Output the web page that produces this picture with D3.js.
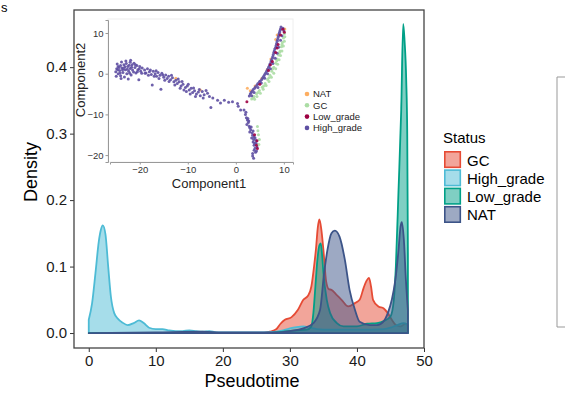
<!DOCTYPE html>
<html>
<head>
<meta charset="utf-8">
<script src="https://cdn.jsdelivr.net/npm/d3@7"></script>
<style>
  body { margin: 0; background: #fff; }
  svg { display: block; font-family: "Liberation Sans", Arial, sans-serif; }
</style>
</head>
<body>
<svg id="chart" width="565" height="397"></svg>
<script>
// density curves, [pseudotime, density]
const gcDensity = [[0,0],[26,0],[27,0.002],[28,0.006],[28.6,0.014],[29.25,0.02],[30.25,0.024],[31.2,0.035],[32,0.05],[32.7,0.056],[33.2,0.07],[33.6,0.1],[33.9,0.128],[34.15,0.158],[34.4,0.171],[34.7,0.155],[35,0.125],[35.4,0.078],[35.8,0.066],[36.2,0.065],[37,0.057],[37.7,0.05],[38.7,0.04],[39.7,0.045],[40.4,0.05],[41,0.068],[41.4,0.078],[41.8,0.083],[42.1,0.07],[42.4,0.05],[43.2,0.04],[44,0.037],[44.6,0.03],[45.2,0.02],[45.8,0.012],[46.5,0.01],[47.2,0.014],[47.6,0.012]];
const hgDensity = [[0,0.02],[0.5,0.045],[1,0.09],[1.5,0.138],[1.8,0.155],[2.1,0.162],[2.5,0.148],[2.9,0.1],[3.3,0.055],[3.8,0.03],[4.4,0.021],[5,0.016],[5.8,0.012],[6.7,0.015],[7.5,0.019],[8.2,0.015],[9,0.008],[10,0.006],[11,0.006],[12,0.004],[13,0.003],[14,0.003],[15,0.004],[16,0.003],[17,0.002],[18,0.003],[19,0.001],[22,0.001],[26,0.001],[28,0.002],[29,0.004],[30,0.007],[31,0.009],[32,0.01],[33,0.008],[34,0.006],[36,0.005],[40,0.005],[44,0.006],[45,0.008],[46,0.012],[47,0.015],[47.6,0.012]];
const lgDensity = [[0,0],[27,0],[29,0.002],[31,0.004],[32.5,0.005],[33.2,0.01],[33.5,0.03],[33.8,0.07],[34.1,0.11],[34.4,0.132],[34.6,0.135],[34.8,0.118],[35,0.09],[35.5,0.05],[36,0.03],[37,0.015],[38,0.01],[40,0.01],[41.5,0.014],[43,0.015],[44,0.018],[45,0.025],[45.5,0.05],[45.8,0.1],[46.2,0.215],[46.6,0.335],[46.9,0.465],[47.1,0.44],[47.35,0.38],[47.5,0.3],[47.6,0.12]];
const natDensity = [[0,0],[10,0.001],[17,0.002],[20,0.001],[28,0.001],[30,0.003],[32,0.007],[33.5,0.015],[34.5,0.035],[35.1,0.09],[35.6,0.125],[36.2,0.15],[36.7,0.154],[37.4,0.145],[38.2,0.11],[38.9,0.065],[39.7,0.035],[40.4,0.017],[41.9,0.012],[43,0.012],[44,0.018],[44.6,0.03],[45.2,0.05],[45.7,0.078],[46.2,0.125],[46.5,0.16],[46.7,0.167],[47,0.14],[47.3,0.08],[47.6,0.035]];

const statusNames = ["GC", "High_grade", "Low_grade", "NAT"];
const statusColors = ["#E64B35", "#4DBBD5", "#00A087", "#3C5488"];
const xTicks = [0, 10, 20, 30, 40, 50];
const yTicks = [0, 0.1, 0.2, 0.3, 0.4];

// inset trajectory, [Component1, Component2]
const hgCells = [[-25,0.5],[-24.8,1.2],[-24.5,1.8],[-24.5,0],[-24.2,0.8],[-24,2],[-24,-0.5],[-23.7,1.4],[-23.5,0.3],[-23.3,2.2],[-23.2,-0.8],[-23,1],[-22.8,2.5],[-22.7,0],[-22.5,1.8],[-22.3,0.6],[-22,2.8],[-22,1.3],[-21.8,-0.3],[-21.6,2.2],[-21.5,0.9],[-21.2,2.6],[-21,1.5],[-20.8,0.2],[-20.6,2],[-20.4,1],[-20.2,-1.5],[-20,1.8],[-19.8,0.6],[-19.5,1.4],[-24.7,2.4],[-23.8,2.9],[-22.9,3.1],[-21.9,3.3],[-24.9,-0.6],[-23.9,-1.2],[-22.4,-1.3],
  [-24.6,1],[-24.1,0.2],[-23.6,0.9],[-23.1,1.7],[-22.6,1.1],[-22.1,0.1],[-21.7,1.6],[-21.3,0.4],[-20.9,2.2],[-20.5,0.5],[-20.1,1.2],[-19.6,0.1],[-24.3,1.5],[-23.4,1.3],[-22.2,2.1],
  [-19,0.9],[-18.7,0.2],[-18.4,1.2],[-18,0.5],[-17.6,-0.2],[-17.4,-2.8],[-17.2,0.6],[-16.8,0],[-16.5,-0.6],[-16.2,0.3],[-15.8,-0.4],[-15.6,-3.8],[-15.4,0.1],[-15,-0.9],[-14.6,-0.3],[-14.3,-1.2],[-14,-0.6],[-13.6,-1.5],[-13.2,-1],[-12.9,-2],[-12.5,-1.6],[-12.2,-2.4],[-11.8,-2],[-11.4,-3],[-11,-2.6],[-10.8,-4],[-10.5,-3.4],[-10.1,-3],[-9.7,-4],[-9.3,-3.6],[-9,-4.6],[-8.6,-4.2],[-8.2,-5],[-7.8,-4.5],[-7.4,-5.4],[-7,-4.4],[-6.6,-5.2],[-5.9,-4.8],[-5.2,-8.3],[-4.8,-6],[-3.8,-6.5],[-3.2,-7.2],[-2.4,-6.5],[-1.5,-7],[-0.7,-6.9],[0.35,-7.3],[1,-8.9],[1.7,-8.9],[0.5,-8],
  [-18.9,0.1],[-18.2,-0.4],[-17.8,0.9],[-17,-0.6],[-16.6,0.7],[-16,-1.2],[-15.2,-0.3],[-14.8,-1.6],[-13.9,-1.9],[-13.4,-0.4],[-12.7,-2.8],[-12,-1.3],[-11.6,-3.6],[-11.2,-1.9],[-10.3,-4.4],[-9.9,-2.6],[-9.5,-5],[-8.8,-3.5],[-8.4,-5.6],[-7.6,-3.9],[-6.8,-6],[-6.2,-4.1],[-5.5,-5.6],
  [2,-10],[2.2,-10.8],[2.4,-11.4],[2.6,-12],[2.3,-12.5],[2.8,-12.9],[3.1,-13.8],[2.9,-14.3],[3.4,-14.6],[3.8,-15.5],[3.3,-15.8],[4.2,-16.4],[3.6,-16.8],[4.2,-17.1],[3.8,-17.6],[4.4,-18],[3.8,-18.8],[4.1,-19.3],[3.5,-19.6],[3.5,-20.2],[2.5,-11],[2.9,-13.3],[3.5,-15.1],[3.7,-16.2],[4,-18.3],
  [2.1,-9.5],[2.7,-11.6],[3.2,-13.1],[3.6,-14.1],[4,-15.8],[3.9,-17.1],[4.3,-19],[3.7,-20.8],
  [2.8,-5.5],[3.2,-4.6],[3.6,-3.9],[4.1,-3.2],[4.6,-2.4],[5.1,-1.8],[5.6,-1],[6,-0.2],[6.4,0.6],[6.8,1.6],[7.1,2.4],[7.4,3.3],[7.7,4.2],[7.9,5.2],[8.1,6.1],[8.4,7],[8.6,8],[8.8,8.9],[9,9.8],[9.2,10.6],[9.4,11.5],[9.8,11.2],[10,10.5],[9.6,9.3],[9.3,8.2],[8.9,6.5],[8.6,5],[8.2,3.8],[7.7,2.5],[7.2,1.2],[6.6,0],[6,-1.1],[5.3,-2.3],[4.6,-3.4],[3.8,-4.6],[3.3,-5.4],
  [3,-5],[3.4,-4.3],[3.9,-3.6],[4.4,-2.8],[4.9,-2],[5.4,-1.4],[5.8,-0.6],[6.2,0.2],[6.6,1.1],[7,2],[7.3,2.9],[7.6,3.8],[7.8,4.7],[8,5.6],[8.3,6.5],[8.5,7.5],[8.7,8.4],[8.9,9.3],[9.1,10.2],[9.3,11]];
const gcCells = [[3.3,-6.2],[3.8,-5.6],[4.3,-4.9],[4.9,-4.1],[5.5,-3.3],[6.1,-2.4],[6.6,-1.4],[7.1,-0.4],[7.5,0.6],[7.9,1.6],[8.3,2.6],[8.6,3.6],[8.9,4.6],[9.2,5.6],[9.5,6.6],[9.7,7.7],[9.9,8.8],[10.1,9.8],[4.7,-15],[4.9,-16.2],[4.6,-14],[3.6,-6],[4.6,-4.6],[5.8,-3],[6.9,-1],[7.7,1.2],[8.5,3.2],[9.1,5.2],[9.6,7.2],
  [3.9,-6.3],[4.4,-5.6],[5.1,-4.8],[5.7,-3.8],[6.3,-2.9],[6.9,-1.9],[7.4,-0.9],[7.9,0.1],[8.3,1.2],[8.7,2.3],[9,3.4],[9.3,4.5],[9.6,5.6],[9.9,6.8],[10.1,8],[10.2,9.1],[4.8,-17.4],[4.5,-13]];
const lgCells = [[2.3,-6.9],[5,-2.6],[6.8,0.8],[7.6,3],[8.3,5.2],[8.8,7.2],[9.3,9.5],[9.8,10.9],[10.1,10.2],[4.4,-16.5],[4.3,-17.6],[4.5,-18.4],[3.9,-15],[7.2,2.2],[8.6,6.3]];
const natCells = [[-12.5,-1.1],[-7.4,-4],[3,-4.2],[4,-3],[5.4,-1.2],[6.5,1],[7.3,3.6],[8.3,8.4],[8.6,9.5],[10.2,11],[2.4,-3.6]];

const cellNames = ["NAT", "GC", "Low_grade", "High_grade"];
const cellColors = ["#FDAE61", "#ABDDA4", "#9E0142", "#5E4FA2"];
const compTicks = [-20, -10, 0, 10];

const svg = d3.select("#chart");

// main density panel
const x = d3.scaleLinear().domain([-2.2, 50]).range([74, 424]);
const y = d3.scaleLinear().domain([-0.0225, 0.486]).range([348, 10]);

const area = d3.area()
    .x(d => x(d[0]))
    .y0(y(0))
    .y1(d => y(d[1]))
    .curve(d3.curveMonotoneX);

const series = [gcDensity, hgDensity, lgDensity, natDensity];
svg.append("g")
    .selectAll("path")
    .data(series)
    .join("path")
    .attr("d", area)
    .attr("fill", (d, i) => statusColors[i])
    .attr("fill-opacity", 0.5)
    .attr("stroke", (d, i) => statusColors[i])
    .attr("stroke-width", 1.8)
    .attr("stroke-linejoin", "round");

const xAxis = svg.append("g")
    .attr("transform", "translate(0,348)")
    .call(d3.axisBottom(x).tickValues(xTicks).tickSize(4).tickPadding(3));
const yAxis = svg.append("g")
    .attr("transform", "translate(74,0)")
    .call(d3.axisLeft(y).tickValues(yTicks).tickFormat(d3.format(".1f")).tickSize(4).tickPadding(3));
[xAxis, yAxis].forEach(a => {
    a.select(".domain").remove();
    a.selectAll("line").attr("stroke", "#333");
    a.selectAll("text").attr("font-size", 15).attr("fill", "#1a1a1a")
        .attr("font-family", "'Liberation Sans', Arial, sans-serif");
});

svg.append("rect")
    .attr("x", 74).attr("y", 10).attr("width", 350).attr("height", 338)
    .attr("fill", "none").attr("stroke", "#444").attr("stroke-width", 1.3);

svg.append("text").attr("x", 252).attr("y", 387)
    .attr("text-anchor", "middle").attr("font-size", 18).text("Pseudotime");
svg.append("text")
    .attr("transform", "translate(37,172) rotate(-90)")
    .attr("text-anchor", "middle").attr("font-size", 18).text("Density");

// legend
svg.append("text").attr("x", 443).attr("y", 143).attr("font-size", 15).text("Status");
const leg = svg.append("g").selectAll("g")
    .data(statusNames)
    .join("g")
    .attr("transform", (d, i) => `translate(444,${151 + i * 18.3})`);
leg.append("rect")
    .attr("x", 0.8).attr("y", 0.8).attr("width", 15.5).attr("height", 15.5)
    .attr("fill", (d, i) => statusColors[i]).attr("fill-opacity", 0.5)
    .attr("stroke", (d, i) => statusColors[i]).attr("stroke-width", 1.6);
leg.append("text")
    .attr("x", 23).attr("y", 14.5).attr("font-size", 15).text(d => d);

svg.append("path")
    .attr("d", "M570,77 H557 V327 H570")
    .attr("fill", "none").attr("stroke", "#999").attr("stroke-width", 1);

svg.append("text").attr("x", 1).attr("y", 12).attr("font-size", 13).text("s");

// inset trajectory
const cx = d3.scaleLinear().domain([-26.2, 11.9]).range([110, 293]);
const cy = d3.scaleLinear().domain([-21.7, 13.2]).range([162, 20]);

svg.append("rect")
    .attr("x", 108).attr("y", 19).attr("width", 185).attr("height", 143)
    .attr("fill", "#fff").attr("stroke", "#eee").attr("stroke-width", 1);

const cellGroups = [
    { pts: gcCells, color: cellColors[1] },
    { pts: natCells, color: cellColors[0] },
    { pts: hgCells, color: cellColors[3] },
    { pts: lgCells, color: cellColors[2] }
];
const inset = svg.append("g");
cellGroups.forEach(g => {
    inset.append("g").selectAll("circle")
        .data(g.pts)
        .join("circle")
        .attr("cx", d => cx(d[0]))
        .attr("cy", d => cy(d[1]))
        .attr("r", 1.5)
        .attr("fill", g.color)
        .attr("fill-opacity", 0.9);
});

const cxAxis = svg.append("g")
    .attr("transform", "translate(0,162)")
    .call(d3.axisBottom(cx).tickValues(compTicks).tickSize(2.5).tickPadding(2));
const cyAxis = svg.append("g")
    .attr("transform", "translate(108,0)")
    .call(d3.axisLeft(cy).tickValues(compTicks).tickSize(2.5).tickPadding(2));
[cxAxis, cyAxis].forEach(a => {
    a.select(".domain").attr("stroke", "#999");
    a.selectAll("line").attr("stroke", "#999");
    a.selectAll("text").attr("font-size", 9.5).attr("fill", "#333")
        .attr("font-family", "'Liberation Sans', Arial, sans-serif");
});

svg.append("text").attr("x", 209).attr("y", 188)
    .attr("text-anchor", "middle").attr("font-size", 13).attr("fill", "#222").text("Component1");
svg.append("text")
    .attr("transform", "translate(85,80) rotate(-90)")
    .attr("text-anchor", "middle").attr("font-size", 13).attr("fill", "#222").text("Component2");

const cleg = svg.append("g").selectAll("g")
    .data(cellNames)
    .join("g")
    .attr("transform", (d, i) => `translate(307,${94 + i * 11.3})`);
cleg.append("circle").attr("r", 2.3).attr("fill", (d, i) => cellColors[i]);
cleg.append("text").attr("x", 6).attr("y", 3.4).attr("font-size", 9.5).attr("fill", "#222").text(d => d);
</script>
</body>
</html>
